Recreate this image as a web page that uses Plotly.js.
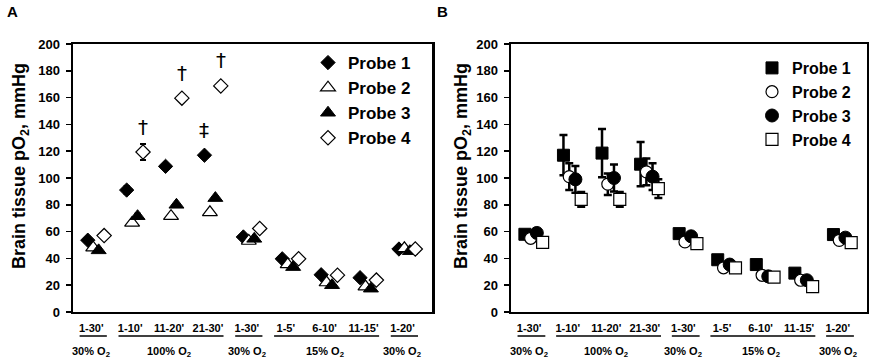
<!DOCTYPE html>
<html><head><meta charset="utf-8">
<script src="https://cdn.plot.ly/plotly-3.0.1.min.js"></script>
<style>html,body{margin:0;padding:0;background:#fff}#chart{width:869px;height:364px}</style>
</head><body><div id="chart"></div>
<script>
// ---- data ----
const categories = ["1-30'", "1-10'", "11-20'", "21-30'", "1-30'", "1-5'", "6-10'", "11-15'", "1-20'"];
const phaseLabels = ["30% O<sub>2</sub>", "100% O<sub>2</sub>", "30% O<sub>2</sub>", "15% O<sub>2</sub>", "30% O<sub>2</sub>"];
const phaseStart = [0, 1, 4, 5, 8];
const phaseEnd   = [0, 3, 4, 7, 8];
const probeNames = ["Probe 1", "Probe 2", "Probe 3", "Probe 4"];

// Panel A
const aProbe1 = [53.6, 91, 108.7, 117, 56, 39.7, 27.8, 25.6, 47];
const aProbe2 = [48, 66.5, 71.5, 74.4, 53, 35.5, 22, 19, 47.5];
const aProbe3 = [46, 71.5, 80, 85, 54.6, 33.5, 20, 17.4, 45.4];
const aProbe4 = [57, 119.4, 159.6, 168.7, 62.3, 39.7, 27.5, 23.8, 47];
const aErr1 = [null, 3, null, null, null, null, null, null, null];
const aErr2 = [null, null, null, null, null, null, null, null, null];
const aErr3 = [null, 2, null, null, null, null, null, null, null];
const aErr4 = [null, 6, null, null, null, null, null, null, null];
const daggerProbe4 = [null, "†", "†", "†", null, null, null, null, null];
const daggerProbe1 = [null, null, null, "‡", null, null, null, null, null];

// Panel B
const bProbe1 = [58, 117, 118.6, 110.3, 58.5, 39, 35.4, 29, 57.8];
const bProbe2 = [55, 101, 95.4, 104.6, 52.3, 33, 27.4, 23.7, 53.5];
const bProbe3 = [59, 99, 100, 101, 56.5, 35.4, 26.6, 23.7, 55.5];
const bProbe4 = [52, 84, 84, 92, 51, 33, 26, 19, 51.8];
const bErr1 = [null, 15, 18, 16.5, null, null, null, null, null];
const bErr2 = [null, 10, 8, 10, null, null, null, null, null];
const bErr3 = [null, 10, 10, 10, null, null, null, null, null];
const bErr4 = [null, 5.5, 5.5, 7, null, null, null, null, null];

// ---- build ----
const FONT = "Liberation Sans, Arial, sans-serif";
const idx = categories.map((c, i) => i);
const offA = [-0.21, -0.07, 0.07, 0.21];
const offB = [-0.23, -0.08, 0.08, 0.23];

const aVals = [aProbe1, aProbe2, aProbe3, aProbe4];
const aErrs = [aErr1, aErr2, aErr3, aErr4];
const bVals = [bProbe1, bProbe2, bProbe3, bProbe4];
const bErrs = [bErr1, bErr2, bErr3, bErr4];

const aStyles = [
  {symbol: 'diamond', size: 11, color: '#000', line: {color: '#000', width: 1}},
  {symbol: 'triangle-up', size: 13, color: '#fff', line: {color: '#000', width: 1.2}},
  {symbol: 'triangle-up', size: 13, color: '#000', line: {color: '#000', width: 1}},
  {symbol: 'diamond', size: 11, color: '#fff', line: {color: '#000', width: 1.2}}
];
const bStyles = [
  {symbol: 'square', size: 12, color: '#000', line: {color: '#000', width: 1}},
  {symbol: 'circle', size: 12, color: '#fff', line: {color: '#000', width: 1.2}},
  {symbol: 'circle', size: 13, color: '#000', line: {color: '#000', width: 1}},
  {symbol: 'square', size: 12, color: '#fff', line: {color: '#000', width: 1.2}}
];

const traces = [];
aVals.forEach((v, p) => {
  traces.push({
    type: 'scatter', mode: 'markers', name: probeNames[p],
    x: idx.map(i => i + offA[p]), y: v,
    xaxis: 'x', yaxis: 'y', legend: 'legend',
    marker: aStyles[p],
    error_y: {type: 'data', array: aErrs[p], visible: true, color: '#000', thickness: 2, width: 3},
    hoverinfo: 'skip'
  });
});
bVals.forEach((v, p) => {
  traces.push({
    type: 'scatter', mode: 'markers', name: probeNames[p],
    x: idx.map(i => i + offB[p]), y: v,
    xaxis: 'x2', yaxis: 'y2', legend: 'legend2',
    marker: bStyles[p],
    error_y: {type: 'data', array: bErrs[p], visible: true, color: '#000', thickness: 2.5, width: 4},
    hoverinfo: 'skip'
  });
});

const W = 869, H = 364, MT = 44, MB = 52;
const PH = H - MT - MB;
const py = pix => (H - MB - pix) / PH;

const annotations = [];
const shapes = [];

const MARKFONT = {family: "DejaVu Sans, Liberation Sans, sans-serif", size: 20, color: '#000000'};
// significance marks
daggerProbe4.forEach((t, i) => {
  if (t) annotations.push({xref: 'x', yref: 'y', x: i + offA[3], y: aProbe4[i] + 19, text: t,
    showarrow: false, font: MARKFONT, yanchor: 'middle'});
});
daggerProbe1.forEach((t, i) => {
  if (t) annotations.push({xref: 'x', yref: 'y', x: i + offA[0], y: aProbe1[i] + 19, text: t,
    showarrow: false, font: MARKFONT, yanchor: 'middle'});
});

// phase underlines and labels
[['x', -0.42, 0.28], ['x2', -0.42, 0.3]].forEach(([xr, lo, hi]) => {
  phaseLabels.forEach((lab, k) => {
    shapes.push({type: 'line', xref: xr, yref: 'paper',
      x0: phaseStart[k] + lo, x1: phaseEnd[k] + hi, y0: py(336), y1: py(336),
      line: {color: '#000', width: 1.5}});
    annotations.push({xref: xr, yref: 'paper', x: (phaseStart[k] + phaseEnd[k]) / 2 - 0.12, y: py(352),
      text: lab, showarrow: false, yanchor: 'middle',
      font: {family: FONT, size: 11, color: '#000', weight: 'bold'}});
  });
});

// panel letters and y titles
annotations.push({xref: 'paper', yref: 'paper', x: 12 / W, y: py(11), text: 'A', showarrow: false,
  xanchor: 'center', yanchor: 'middle', font: {family: FONT, size: 15, color: '#000', weight: 'bold'}});
annotations.push({xref: 'paper', yref: 'paper', x: 442 / W, y: py(11), text: 'B', showarrow: false,
  xanchor: 'center', yanchor: 'middle', font: {family: FONT, size: 15, color: '#000', weight: 'bold'}});
[20, 462].forEach(xp => {
  annotations.push({xref: 'paper', yref: 'paper', x: xp / W, y: py(166), text: 'Brain tissue pO<sub>2</sub>, mmHg',
    showarrow: false, textangle: -90, xanchor: 'center', yanchor: 'middle',
    font: {family: FONT, size: 18, color: '#000', weight: 'bold'}});
});

const xaxisBase = {
  range: [-0.59, 8.64], tickmode: 'array', tickvals: idx.map(i => i - 0.12), ticktext: categories,
  showline: true, linewidth: 2, linecolor: '#000', mirror: true, ticks: '', showgrid: false, zeroline: false,
  ticklabelstandoff: 5,
  tickfont: {family: FONT, size: 11, color: '#000', weight: 'bold'}, automargin: false, fixedrange: true
};
const yaxisBase = {
  range: [0, 200], dtick: 20, tick0: 0, showline: true, linewidth: 2.5, linecolor: '#000', mirror: true,
  ticks: 'outside', ticklen: 5, tickwidth: 1.5, tickcolor: '#000', showgrid: false, zeroline: false,
  ticklabelstandoff: 3,
  tickfont: {family: FONT, size: 13, color: '#000', weight: 'bold'}, automargin: false, fixedrange: true
};

const layout = {
  width: W, height: H,
  margin: {l: 0, r: 0, t: MT, b: MB, pad: 0},
  paper_bgcolor: '#fff', plot_bgcolor: '#fff',
  showlegend: true, hovermode: false,
  font: {family: FONT, color: '#000'},
  xaxis: Object.assign({}, xaxisBase, {domain: [73 / W, 432 / W], anchor: 'y'}),
  yaxis: Object.assign({}, yaxisBase, {domain: [0, 1], anchor: 'x'}),
  xaxis2: Object.assign({}, xaxisBase, {domain: [511 / W, 867 / W], anchor: 'y2'}),
  yaxis2: Object.assign({}, yaxisBase, {domain: [0, 1], anchor: 'x2'}),
  legend: {x: 308 / W, y: py(45), xanchor: 'left', yanchor: 'top', bgcolor: 'rgba(0,0,0,0)',
    font: {family: FONT, size: 17, color: '#000', weight: 'bold'}, itemwidth: 30, tracegroupgap: 0},
  legend2: {x: 752 / W, y: py(51), xanchor: 'left', yanchor: 'top', bgcolor: 'rgba(0,0,0,0)',
    font: {family: FONT, size: 16, color: '#000', weight: 'bold'}, itemwidth: 30, tracegroupgap: 0},
  annotations: annotations,
  shapes: shapes
};

Plotly.newPlot('chart', traces, layout, {displayModeBar: false, staticPlot: true});
</script>
</body></html>
